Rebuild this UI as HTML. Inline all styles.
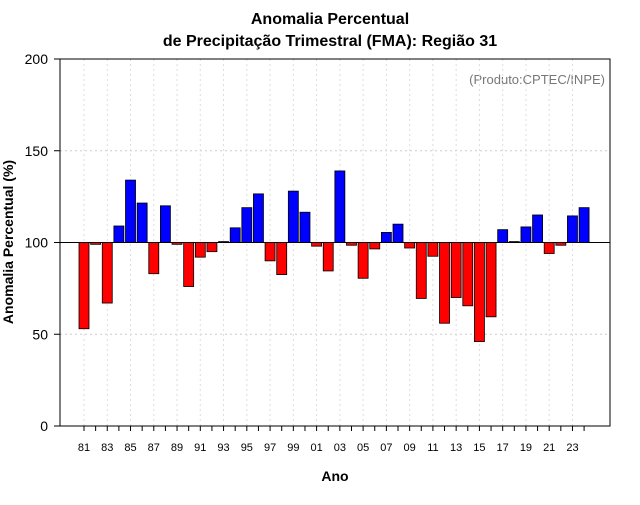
<!DOCTYPE html>
<html><head><meta charset="utf-8"><style>
body{margin:0;background:#fff;font-family:"Liberation Sans",sans-serif}
</style></head><body>
<svg id="c" width="640" height="500" xmlns="http://www.w3.org/2000/svg">
<text x="330" y="24" text-anchor="middle" font-size="16" font-weight="bold">Anomalia Percentual</text>
<text x="330" y="46" text-anchor="middle" font-size="16" font-weight="bold">de Precipitação Trimestral (FMA): Região 31</text>
<text x="605" y="84" text-anchor="end" font-size="13" fill="#777">(Produto:CPTEC/INPE)</text>
<text x="335" y="481" text-anchor="middle" font-size="14" font-weight="bold">Ano</text>
<text transform="translate(13,242) rotate(-90)" text-anchor="middle" font-size="14" font-weight="bold">Anomalia Percentual (%)</text>
<g id="grid"></g><g id="bars"></g><g id="axes"></g>
</svg>
<script>
const years=[1981,1982,1983,1984,1985,1986,1987,1988,1989,1990,1991,1992,1993,1994,1995,1996,1997,1998,1999,2000,2001,2002,2003,2004,2005,2006,2007,2008,2009,2010,2011,2012,2013,2014,2015,2016,2017,2018,2019,2020,2021,2022,2023,2024];
const values=[53,99,67,109,134,121.5,83,120,99,76,92,95,100.5,108,119,126.5,90,82.5,128,116.5,98,84.5,139,98.5,80.5,96.5,105.5,110,97,69.5,92.5,56,70,65.5,46,59.5,107,100.5,108.5,115,94,98.5,114.5,119];
const yTicks=[0,50,100,150,200];
const xLabelYears=[1981,1983,1985,1987,1989,1991,1993,1995,1997,1999,2001,2003,2005,2007,2009,2011,2013,2015,2017,2019,2021,2023];
const NS="http://www.w3.org/2000/svg";
const L=60,R=610,T=59,B=426;
const xs=y=>84+(y-1981)*11.63;
const ys=v=>B-(v/200)*(B-T);
function mk(t,a,p){const e=document.createElementNS(NS,t);for(const k in a)e.setAttribute(k,a[k]);p.appendChild(e);return e;}
const g=document.getElementById('grid'),bg=document.getElementById('bars'),ag=document.getElementById('axes');
yTicks.forEach(v=>{if(v>0&&v<200&&v!==100){const l=mk('line',{x1:L,x2:R,y1:ys(v),y2:ys(v),stroke:'#ccc','stroke-dasharray':'2,3'},g);

}});
xLabelYears.forEach(y=>{const l=mk('line',{x1:xs(y),x2:xs(y),y1:T,y2:B,stroke:'#ddd','stroke-dasharray':'2,3'},g);

});
years.forEach((y,i)=>{const v=values[i];const y0=ys(100),y1=ys(v);
const r=mk('rect',{x:xs(y)-5,y:Math.min(y0,y1),width:10,height:Math.max(Math.abs(y1-y0),0.8),fill:v>=100?'#0000ff':'#ff0000',stroke:'#000','stroke-width':0.8},bg);

});
mk('line',{x1:L,x2:R,y1:ys(100),y2:ys(100),stroke:'#000','stroke-width':1},ag);
const fr=mk('rect',{x:L,y:T,width:R-L,height:B-T,fill:'none',stroke:'#000'},ag);


yTicks.forEach(v=>{mk('line',{x1:L-6,x2:L,y1:ys(v),y2:ys(v),stroke:'#000'},ag);
const t=mk('text',{x:L-12,y:ys(v)+5,'text-anchor':'end','font-size':14},ag);t.textContent=v;

});
years.forEach(y=>{mk('line',{x1:xs(y),x2:xs(y),y1:B,y2:B+5,stroke:'#000'},ag);});
xLabelYears.forEach(y=>{const t=mk('text',{x:xs(y),y:451,'text-anchor':'middle','font-size':11},ag);t.textContent=String(y).slice(2);

});
</script>
</body></html>
